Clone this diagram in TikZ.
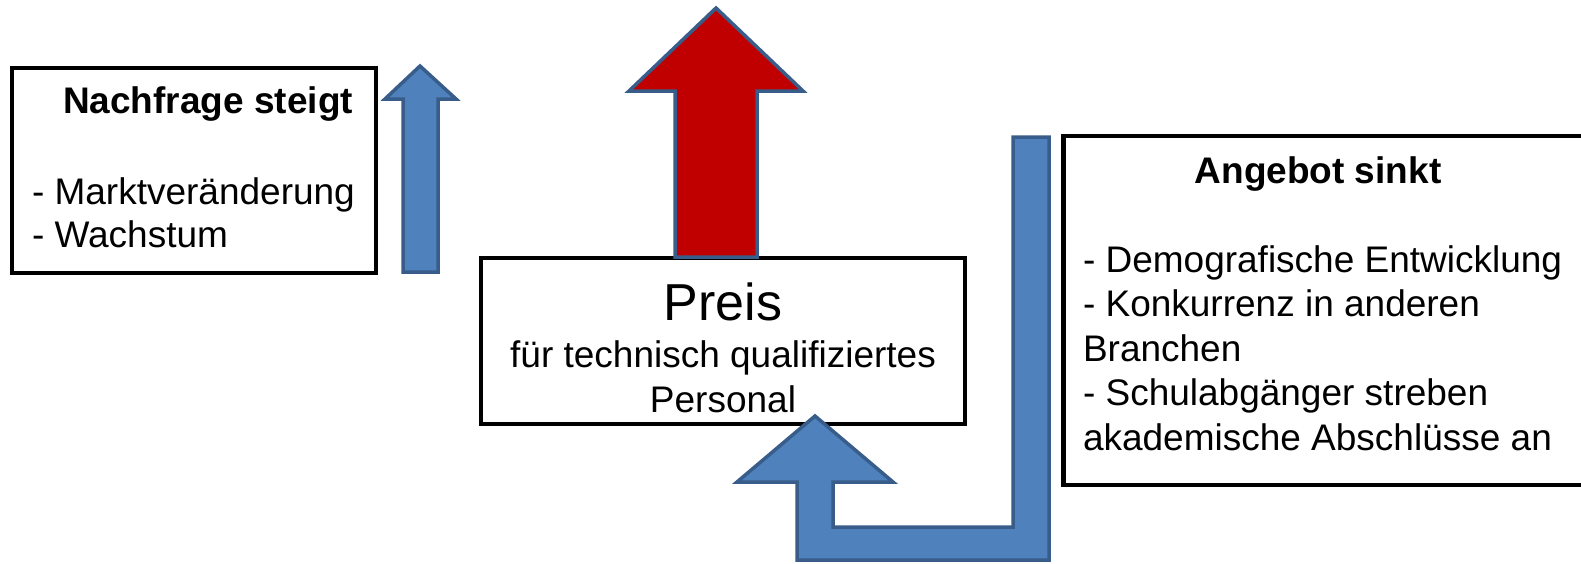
\documentclass[tikz,border=0pt]{standalone}
\usepackage{fontspec}
\setmainfont{Liberation Sans}
\definecolor{blfill}{HTML}{4F81BD}
\definecolor{blline}{HTML}{385D8A}
\definecolor{redfill}{HTML}{C00000}
\newcommand\fsmid{\fontsize{37}{43}\selectfont}
\newcommand\fsbig{\fontsize{52}{60}\selectfont}
\begin{document}
\begin{tikzpicture}[x=1pt,y=-1pt,
  box/.style={draw=black,line width=4.5pt,fill=white,inner sep=0pt,outer sep=0pt},
  bluearrow/.style={draw=blline,fill=blfill,line width=3.5pt,line join=miter},
  redarrow/.style={draw=blline,fill=redfill,line width=3.5pt,line join=miter},
  txt/.style={inner sep=0pt,outer sep=0pt}]
\useasboundingbox (0,0) rectangle (1581,563);
\clip (0,0) rectangle (1581,563);
\fill[white] (0,0) rectangle (1581,563);

% left box
\node (nbox) [box,anchor=north west,minimum width=364pt,minimum height=205pt] at (12,68) {};
\node (ntitle) [txt,anchor=base east,font=\bfseries\fsmid] at (353,113) {Nachfrage steigt};
\node (nl1) [txt,anchor=base west,font=\fsmid] at (32,204) {- Marktveränderung};
\node (nl2) [txt,anchor=base west,font=\fsmid] at (32,247) {- Wachstum};

% small blue arrow
\draw[bluearrow] (420,66) -- (456,99) -- (438,99) -- (438,272) -- (403,272) -- (403,99) -- (385,99) -- cycle;

% right box
\node (abox) [box,anchor=north west,minimum width=560pt,minimum height=349pt] at (1063.5,136) {};
\node (atitle) [txt,anchor=base,font=\bfseries\fsmid] at (1318,183) {Angebot sinkt};
\node (al1) [txt,anchor=base west,font=\fsmid] at (1083,272) {- Demografische Entwicklung};
\node (al2) [txt,anchor=base west,font=\fsmid] at (1083,316) {- Konkurrenz in anderen};
\node (al3) [txt,anchor=base west,font=\fsmid] at (1083,361) {Branchen};
\node (al4) [txt,anchor=base west,font=\fsmid] at (1083,405) {- Schulabgänger streben};
\node (al5) [txt,anchor=base west,font=\fsmid] at (1083,450) {akademische Abschlüsse an};

% price box
\node (pbox) [box,anchor=north west,minimum width=484pt,minimum height=166pt] at (481,258) {};
\node (pt1) [txt,anchor=base,font=\fsbig] at (723,320) {Preis};
\node (pt2) [txt,anchor=base,font=\fsmid] at (723,367) {für technisch qualifiziertes};
\node (pt3) [txt,anchor=base,font=\fsmid] at (723,412) {Personal};

% red arrow
\draw[redarrow] (716,8) -- (803,91) -- (757,91) -- (757,257) -- (675,257) -- (675,91) -- (629,91) -- cycle;

% bent blue arrow
\draw[bluearrow] (815,416) -- (893,482) -- (833,482) -- (833,527) -- (1013,527) -- (1013,137) -- (1049,137) -- (1049,560) -- (797,560) -- (797,482) -- (737,482) -- cycle;
\end{tikzpicture}
\end{document}
